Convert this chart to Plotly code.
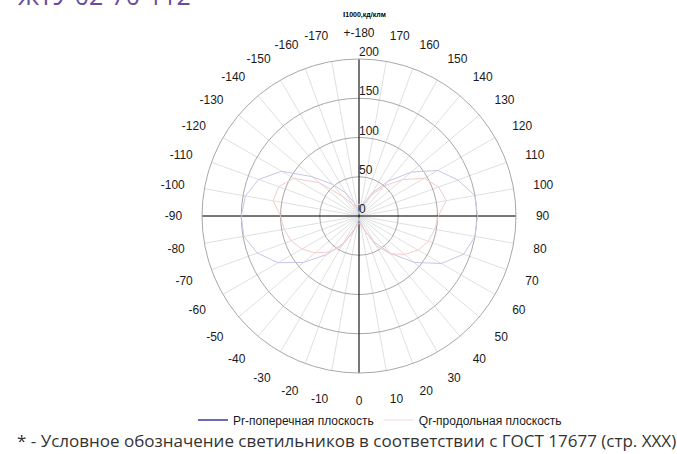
import plotly.graph_objects as go

# ---- data ----
angles = list(range(-180, 181, 10))
pr_values = [2, 6, 18, 34, 53, 78, 114, 136, 147, 150, 149, 138, 119, 92, 64, 41, 22, 8,
             2, 8, 18, 38, 62, 92, 121, 142, 150, 151, 150, 134, 116, 87, 58, 34, 16, 6, 2]
qr_values = [15, 14, 12, 18, 33, 66, 96, 109, 111, 100, 97, 92, 84, 73, 60, 45, 18, 10,
             10, 10, 18, 44, 63, 76, 87, 94, 98, 101, 113, 108, 96, 72, 50, 30, 14, 15, 15]
radial_ticks = [0, 50, 100, 150, 200]
radial_labels = ["0", "50", "100", "150", "200"]
angle_ticks = list(range(0, 360, 10))
angle_labels = ["+-180" if a == 180 else str(a if a < 180 else a - 360) for a in angle_ticks]
pr_name = "Pr-поперечная плоскость"
qr_name = "Qr-продольная плоскость"

W, H = 677, 454
cx, cy, R = 359, 216, 157

fig = go.Figure()

# black cross axes
fig.add_trace(go.Scatterpolar(r=[radial_ticks[-1], 0, radial_ticks[-1]], theta=[0, 0, 180],
                              mode="lines", line=dict(color="black", width=1),
                              showlegend=False, hoverinfo="skip"))
fig.add_trace(go.Scatterpolar(r=[radial_ticks[-1], 0, radial_ticks[-1]], theta=[90, 90, -90],
                              mode="lines", line=dict(color="black", width=1),
                              showlegend=False, hoverinfo="skip"))

# data curves
fig.add_trace(go.Scatterpolar(r=pr_values, theta=angles, mode="lines",
                              line=dict(color="#c6c6e8", width=1),
                              legendgroup="pr", showlegend=False))
fig.add_trace(go.Scatterpolar(r=qr_values, theta=angles, mode="lines",
                              line=dict(color="#f6caca", width=1),
                              legendgroup="qr", showlegend=False))
# legend entries
fig.add_trace(go.Scatterpolar(r=[None], theta=[None], mode="lines", name=pr_name,
                              line=dict(color="#6c6cb4", width=2), legendgroup="pr"))
fig.add_trace(go.Scatterpolar(r=[None], theta=[None], mode="lines", name=qr_name,
                              line=dict(color="#f6dada", width=1), legendgroup="qr"))

# radial tick labels
fig.add_trace(go.Scatterpolar(r=radial_ticks, theta=[180] * len(radial_ticks), mode="text",
                              text=radial_labels, textposition="top right",
                              textfont=dict(family="Liberation Sans, Arial", size=12, color="#1a1a1a"),
                              showlegend=False, hoverinfo="skip", cliponaxis=False))

fig.update_layout(
    width=W, height=H,
    margin=dict(l=0, r=0, t=0, b=0),
    paper_bgcolor="white",
    font=dict(family="Liberation Sans, Arial", size=12, color="#1a1a1a"),
    polar=dict(
        domain=dict(x=[(cx - R) / W, (cx + R) / W], y=[(H - cy - R) / H, (H - cy + R) / H]),
        bgcolor="white",
        angularaxis=dict(rotation=-90, direction="counterclockwise",
                         tickmode="array", tickvals=angle_ticks, ticktext=angle_labels,
                         showgrid=True, gridcolor="#e0e0e0", gridwidth=1,
                         showline=True, linecolor="#a8a8a8", linewidth=1,
                         ticks="outside", ticklen=17, tickcolor="rgba(0,0,0,0)",
                         tickfont=dict(family="Liberation Sans, Arial", size=12, color="#1a1a1a")),
        radialaxis=dict(range=[0, 200], tickmode="array", tickvals=radial_ticks,
                        showticklabels=False, ticks="", showline=False,
                        gridcolor="#a8a8a8", gridwidth=1),
    ),
    legend=dict(orientation="h", x=380 / W, xanchor="center", y=(H - 420) / H, yanchor="middle",
                font=dict(family="Liberation Sans, Arial", size=12, color="#1a1a1a"),
                bgcolor="rgba(0,0,0,0)"),
    annotations=[
        dict(text="<b>I</b><b><span style='font-size:7px'>1000,кд/клм</span></b>",
             x=364 / W, y=1 - 14 / H, xref="paper", yref="paper", showarrow=False,
             xanchor="center", yanchor="middle",
             font=dict(family="Liberation Sans, Arial", size=8, color="black")),
        dict(text="ЖТУ 02-70-112", x=16 / W, y=1, xref="paper", yref="paper",
             showarrow=False, xanchor="left", yanchor="bottom", yshift=-14,
             font=dict(family="Open Sans", size=25, color="#6a4c9c")),
        dict(text="* - Условное обозначение светильников в соответствии с ГОСТ 17677 (стр. XXX)",
             x=15 / W, y=1 - 440 / H, xref="paper", yref="paper", showarrow=False,
             xanchor="left", yanchor="middle",
             font=dict(family="Open Sans", size=17, color="#333333")),
    ],
)

fig.write_html("out.html", config={"displayModeBar": False},
               post_script="document.body.style.margin='0';")
